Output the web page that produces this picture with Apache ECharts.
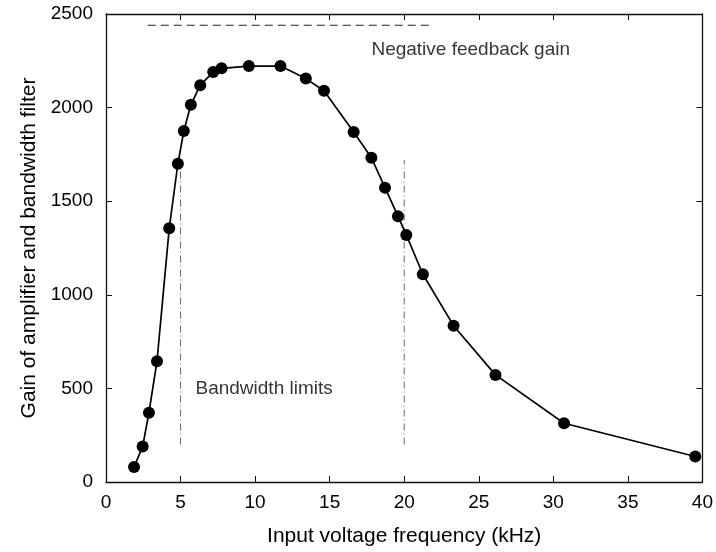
<!DOCTYPE html>
<html>
<head>
<meta charset="utf-8">
<script src="https://cdn.jsdelivr.net/npm/echarts@6/dist/echarts.min.js"></script>
<style>html,body{margin:0;padding:0;background:#fff;}#c{width:716px;height:552px;}</style>
</head>
<body>
<div id="c"></div>
<script>
const freq = [1.88, 2.46, 2.88, 3.42, 4.24, 4.82, 5.22, 5.69, 6.32, 7.19, 7.75, 9.58, 11.70, 13.40, 14.62, 16.61, 17.80, 18.71, 19.58, 20.14, 21.25, 23.31, 26.12, 30.72, 39.52];
const gain = [80, 190, 370, 645, 1355, 1700, 1875, 2015, 2120, 2190, 2210, 2222, 2222, 2155, 2090, 1870, 1732, 1572, 1420, 1320, 1110, 835, 572, 314, 136];
const feedbackGain = 2440;
const feedbackRange = [2.8, 21.7];
const bandwidthLimits = [5, 20];
const limitRange = [200, 1720];
const xTicks = [0, 5, 10, 15, 20, 25, 30, 35, 40];
const yTicks = [0, 500, 1000, 1500, 2000, 2500];
const annotations = [
  { text: 'Negative feedback gain', x: 17.8, y: 2310 },
  { text: 'Bandwidth limits', x: 6.0, y: 500 }
];

const font = 'Liberation Sans, Arial, Helvetica, sans-serif';
const chart = echarts.init(document.getElementById('c'), null, { renderer: 'canvas' });

const tickAxis = (extra) => Object.assign({
  type: 'value',
  axisLine: { show: true, onZero: false, lineStyle: { color: '#111', width: 1.3 } },
  axisTick: { show: true, inside: true, length: 6, lineStyle: { color: '#111', width: 1 } },
  splitLine: { show: false }
}, extra);

const option = {
  animation: false,
  backgroundColor: '#fff',
  grid: { left: 106, right: 13, top: 14, bottom: 61, containLabel: false },
  xAxis: [
    tickAxis({
      min: 0, max: 40, interval: 5, position: 'bottom',
      name: 'Input voltage frequency (kHz)', nameLocation: 'middle', nameGap: 44,
      nameTextStyle: { fontFamily: font, fontSize: 21, color: '#000' },
      axisLabel: { fontFamily: font, fontSize: 19, color: '#000', margin: 11,
        formatter: v => xTicks.includes(v) ? String(v) : '' }
    }),
    tickAxis({ min: 0, max: 40, interval: 5, position: 'top', axisLabel: { show: false } })
  ],
  yAxis: [
    tickAxis({
      min: 0, max: 2500, interval: 500, position: 'left',
      name: 'Gain of amplifier and bandwidth filter', nameLocation: 'middle', nameGap: 61,
      nameTextStyle: { fontFamily: font, fontSize: 21, color: '#000' },
      axisLabel: { fontFamily: font, fontSize: 19, color: '#000', margin: 13,
        formatter: v => yTicks.includes(v) ? String(v) : '' }
    }),
    tickAxis({ min: 0, max: 2500, interval: 500, position: 'right', axisLabel: { show: false } })
  ],
  series: [
    {
      type: 'line',
      data: feedbackRange.map(x => [x, feedbackGain]),
      symbol: 'none',
      lineStyle: { color: '#222', width: 1.2, type: [8, 5] },
      z: 1
    },
    ...bandwidthLimits.map(x => ({
      type: 'line',
      data: limitRange.map(y => [x, y]),
      symbol: 'none',
      lineStyle: { color: '#666', width: 1, type: [7, 3, 1, 3] },
      z: 1
    })),
    {
      type: 'line',
      data: freq.map((f, i) => [f, gain[i]]),
      symbol: 'circle',
      symbolSize: 12,
      itemStyle: { color: '#000' },
      lineStyle: { color: '#000', width: 1.7 },
      z: 3
    },
    {
      type: 'scatter',
      symbolSize: 0,
      data: annotations.map(a => ({ value: [a.x, a.y], name: a.text })),
      label: {
        show: true, position: 'right', distance: 0,
        formatter: p => p.name,
        fontFamily: font, fontSize: 19, color: '#000'
      },
      z: 4
    }
  ]
};
chart.setOption(option);
</script>
</body>
</html>
